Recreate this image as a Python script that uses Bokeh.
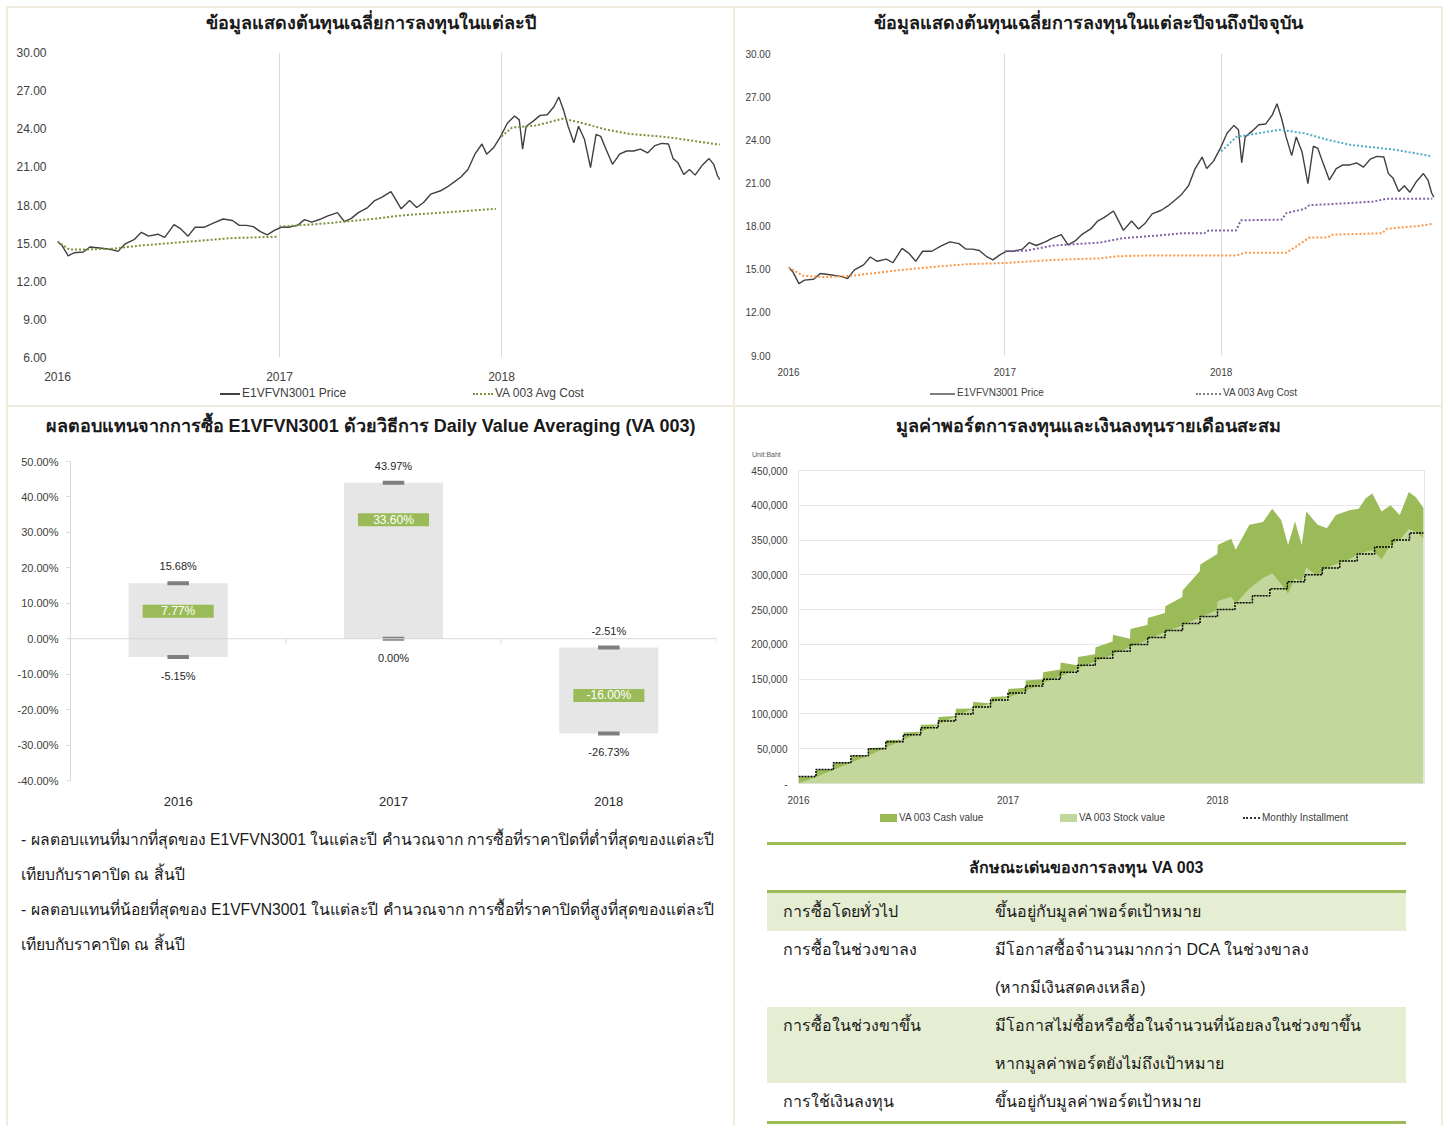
from bokeh.plotting import figure
from bokeh.models import (Range1d, FixedTicker, Span, Div, Spacer,
                          PrintfTickFormatter, NumeralTickFormatter, ColumnDataSource)
from bokeh.layouts import column, row
from bokeh.embed import file_html
from bokeh.resources import INLINE
from bokeh.core.properties import value

FONT = "Liberation Sans"
TXT = "#404040"
GRID = "#d9d9d9"
BEIGE = "#efebdd"
CSSFONT = "'Liberation Sans',Arial,sans-serif"
WHITE = {"background-color": "white"}

# ---------------- data ----------------
year_ticks = [2016, 2017, 2018]
year_labels = ["2016", "2017", "2018"]

price_t = [2016.000, 2016.021, 2016.048, 2016.074, 2016.116, 2016.147, 2016.200, 2016.242, 2016.273, 2016.305,
           2016.347, 2016.378, 2016.410, 2016.452, 2016.483, 2016.525, 2016.557, 2016.588, 2016.620, 2016.662,
           2016.704, 2016.746, 2016.788, 2016.819, 2016.851, 2016.882, 2016.914, 2016.945, 2016.977, 2017.008,
           2017.040, 2017.082, 2017.113, 2017.145, 2017.187, 2017.218, 2017.261, 2017.292, 2017.324, 2017.355,
           2017.397, 2017.429, 2017.460, 2017.502, 2017.523, 2017.548, 2017.586, 2017.618, 2017.649, 2017.681,
           2017.723, 2017.754, 2017.786, 2017.817, 2017.849, 2017.880, 2017.912, 2017.933, 2017.964, 2017.996,
           2018.027, 2018.059, 2018.080, 2018.095, 2018.111, 2018.143, 2018.174, 2018.206, 2018.237, 2018.258,
           2018.279, 2018.300, 2018.326, 2018.347, 2018.374, 2018.401, 2018.426, 2018.447, 2018.468, 2018.500,
           2018.532, 2018.563, 2018.595, 2018.626, 2018.658, 2018.689, 2018.721, 2018.752, 2018.773, 2018.794,
           2018.821, 2018.847, 2018.872, 2018.903, 2018.935, 2018.956, 2018.973, 2018.983]
price = [15.13, 14.80, 14.00, 14.24, 14.30, 14.70, 14.60, 14.50, 14.35, 14.95,
         15.30, 15.85, 15.55, 15.70, 15.45, 16.45, 16.10, 15.55, 16.25, 16.25,
         16.60, 16.90, 16.78, 16.40, 16.40, 16.30, 15.90, 15.65, 16.00, 16.25,
         16.25, 16.40, 16.85, 16.65, 16.90, 17.15, 17.40, 16.70, 16.95, 17.40,
         17.80, 18.35, 18.60, 19.05, 18.45, 17.70, 18.35, 17.80, 18.20, 18.85,
         19.10, 19.40, 19.80, 20.20, 20.80, 22.00, 22.80, 22.00, 22.50, 23.40,
         24.45, 25.00, 24.70, 22.40, 24.20, 24.60, 25.05, 25.10, 25.75, 26.50,
         25.50, 24.20, 22.90, 24.20, 23.15, 20.95, 23.55, 23.40, 22.50, 21.20,
         22.00, 22.25, 22.25, 22.40, 22.10, 22.65, 22.85, 22.80, 21.65, 21.35,
         20.40, 20.80, 20.35, 21.10, 21.65, 21.20, 20.30, 20.00]

# yearly average cost (chart 1)
avg_y2016_t = [2016.000, 2016.053, 2016.116, 2016.242, 2016.368, 2016.578, 2016.788, 2016.987]
avg_y2016 = [15.13, 14.50, 14.50, 14.55, 14.80, 15.10, 15.40, 15.50]
avg_y2017_t = [2017.000, 2017.208, 2017.418, 2017.565, 2017.733, 2017.975]
avg_y2017 = [16.30, 16.55, 16.90, 17.20, 17.40, 17.70]
avg_y2018_t = [2018.000, 2018.048, 2018.153, 2018.279, 2018.363, 2018.468, 2018.574, 2018.742, 2018.983]
avg_y2018 = [23.40, 24.10, 24.25, 24.80, 24.45, 23.95, 23.60, 23.35, 22.75]

# average cost up to now (chart 2)
avg_since2016_t = [2016.000, 2016.067, 2016.173, 2016.299, 2016.489, 2016.700, 2016.826, 2017.001, 2017.227,
                   2017.437, 2017.522, 2017.648, 2017.859, 2018.069, 2018.112, 2018.301, 2018.344, 2018.407,
                   2018.491, 2018.512, 2018.744, 2018.765, 2018.828, 2018.913, 2018.976]
avg_since2016 = [15.13, 14.55, 14.45, 14.55, 14.90, 15.20, 15.35, 15.43, 15.65,
                 15.75, 15.90, 15.95, 15.95, 15.95, 16.15, 16.15, 16.55, 17.20,
                 17.20, 17.40, 17.50, 17.80, 17.90, 18.00, 18.15]
avg_since2017_t = [2017.001, 2017.100, 2017.227, 2017.437, 2017.543, 2017.753, 2017.817, 2017.922, 2017.943,
                   2018.069, 2018.091, 2018.280, 2018.301, 2018.386, 2018.407, 2018.596, 2018.702, 2018.765, 2018.976]
avg_since2017 = [16.25, 16.30, 16.65, 16.85, 17.15, 17.40, 17.50, 17.50, 17.70,
                 17.70, 18.40, 18.45, 18.90, 19.20, 19.45, 19.60, 19.70, 19.90, 19.90]
avg_since2018_t = [2018.000, 2018.070, 2018.270, 2018.386, 2018.491, 2018.596, 2018.807, 2018.976]
avg_since2018 = [23.20, 24.20, 24.70, 24.45, 24.00, 23.65, 23.30, 22.85]

# returns (chart 3)
ret_years = ["2016", "2017", "2018"]
ret_max = [15.68, 43.97, -2.51]
ret_min = [-5.15, 0.00, -26.73]
ret_va = [7.77, 33.60, -16.00]

# portfolio (chart 4), thousand baht
port_t = [2016.000, 2016.082, 2016.084, 2016.165, 2016.168, 2016.249, 2016.251, 2016.332, 2016.334, 2016.415,
          2016.418, 2016.499, 2016.501, 2016.582, 2016.584, 2016.665, 2016.668, 2016.749, 2016.751, 2016.832,
          2016.834, 2016.915, 2016.918, 2016.999, 2017.001, 2017.082, 2017.084, 2017.165, 2017.168, 2017.249,
          2017.251, 2017.332, 2017.334, 2017.415, 2017.418, 2017.499, 2017.501, 2017.582, 2017.584, 2017.665,
          2017.668, 2017.749, 2017.751, 2017.832, 2017.834, 2017.915, 2017.918, 2017.999,
          2018.001, 2018.065, 2018.087, 2018.152, 2018.217, 2018.261, 2018.304, 2018.337, 2018.370, 2018.402,
          2018.424, 2018.478, 2018.522, 2018.565, 2018.630, 2018.674, 2018.707, 2018.739, 2018.783, 2018.826,
          2018.870, 2018.913, 2018.946, 2018.983]
port_total_k = [10.0, 9.5, 19.5, 20.0, 30.0, 30.3, 40.3, 40.0, 50.5, 52.0,
                62.5, 63.0, 73.5, 74.5, 84.5, 85.0, 95.5, 97.0, 107.5, 108.0,
                117.0, 115.5, 124.5, 125.5, 136.0, 137.5, 148.0, 150.0, 160.0, 164.0,
                174.0, 170.0, 182.0, 186.0, 196.0, 204.0, 214.0, 208.0, 222.0, 228.0,
                238.0, 245.0, 255.0, 268.0, 278.0, 305.0, 315.0, 330.0,
                343, 352, 336, 372, 376, 395, 379, 343, 377, 343,
                391, 372, 367, 386, 393, 395, 410, 417, 391, 400,
                386, 419, 412, 396]
stock_k = [0.0, 8.7, 9.0, 19.2, 19.5, 29.5, 29.8, 39.2, 39.5, 51.2,
           51.5, 62.2, 62.5, 73.7, 74.0, 84.2, 84.5, 96.2, 96.5, 107.2,
           107.5, 114.7, 115.0, 124.7, 123, 133, 133, 143, 144, 154,
           154, 164, 165, 175, 175, 185, 186, 196, 196, 206,
           207, 217, 217, 227, 228, 238, 239, 249,
           262, 268, 258, 280, 295, 302, 286, 272, 295, 290,
           310, 298, 310, 315, 322, 330, 333, 335, 322, 342,
           350, 365, 362, 352]
installment = [10000, 20000, 30000, 40000, 50000, 60000, 70000, 80000, 90000, 100000, 110000, 120000,
               130000, 140000, 150000, 160000, 170000, 180000, 190000, 200000, 210000, 220000, 230000, 240000,
               250000, 260000, 270000, 280000, 290000, 300000, 310000, 320000, 330000, 340000, 350000, 360000]
data_end = 2018.983

# ---------------- helpers ----------------
def base_fig(w, h, xr, yr, left, right, top, bottom):
    p = figure(width=w, height=h, x_range=xr, y_range=yr, output_backend="svg", title=None,
               toolbar_location=None, min_border_left=left, min_border_right=right,
               min_border_top=top, min_border_bottom=bottom, styles=dict(WHITE))
    p.outline_line_color = None
    p.background_fill_color = "white"
    p.border_fill_color = "white"
    return p

def style_axes(p, fs):
    for ax in (p.xaxis[0], p.yaxis[0]):
        ax.axis_line_color = None
        ax.major_tick_line_color = None
        ax.minor_tick_line_color = None
        ax.major_label_text_font = FONT
        ax.major_label_text_font_size = fs
        ax.major_label_text_color = TXT

def year_axis(p, fs):
    p.xaxis.ticker = FixedTicker(ticks=year_ticks)
    p.xaxis.major_label_overrides = dict(zip(year_ticks, year_labels))
    p.xgrid.ticker = FixedTicker(ticks=year_ticks)
    p.xgrid.grid_line_color = GRID
    p.ygrid.grid_line_color = None
    style_axes(p, fs)

def title_div(width, height, text, line_h, extra=""):
    html = (f'<div style="position:relative;width:{width}px;height:{height}px;">'
            f'<div style="width:{width}px;height:{line_h}px;line-height:{line_h}px;text-align:center;'
            f'font-family:{CSSFONT};font-size:18px;font-weight:bold;color:#1a1a1a;white-space:nowrap;">{text}</div>'
            f'{extra}</div>')
    return Div(text=html, width=width, height=height, margin=0,
               styles={"background-color": "white", "overflow": "hidden"})

def line_swatch(color, style, w=20, lw=2):
    return (f'<span style="display:inline-block;width:{w}px;height:0;'
            f'border-top:{lw}px {style} {color};"></span>')

def box_swatch(color, w=17, h=8):
    return f'<span style="display:inline-block;width:{w}px;height:{h}px;background:{color};"></span>'

def legend_div(width, height, items, fs):
    parts = [f'<div style="position:relative;width:{width}px;height:{height}px;font-family:{CSSFONT};'
             f'font-size:{fs};color:{TXT};">']
    for x, sw, lab in items:
        parts.append(f'<div style="position:absolute;left:{x}px;top:0;height:{height}px;display:flex;'
                     f'align-items:center;white-space:nowrap;">{sw}<span style="margin-left:2px;">{lab}</span></div>')
    parts.append("</div>")
    return Div(text="".join(parts), width=width, height=height, margin=0,
               styles={"background-color": "white", "overflow": "hidden"})

# ---------------- chart 1 ----------------
t1 = title_div(725, 30, "ข้อมูลแสดงต้นทุนเฉลี่ยการลงทุนในแต่ละปี", 30)
p1 = base_fig(725, 345, Range1d(2016, 2019), Range1d(6, 30), 49, 10, 14, 25)
year_axis(p1, "12px")
p1.yaxis.ticker = FixedTicker(ticks=[6, 9, 12, 15, 18, 21, 24, 27, 30])
p1.yaxis.formatter = PrintfTickFormatter(format="%.2f")
p1.xaxis.major_label_standoff = 8
AVG1 = "#77933c"
p1.line(price_t, price, line_color="#404040", line_width=1.4)
p1.line(avg_y2016_t, avg_y2016, line_color=AVG1, line_width=2, line_dash="2 2")
p1.line(avg_y2017_t, avg_y2017, line_color=AVG1, line_width=2, line_dash="2 2")
p1.line(avg_y2018_t, avg_y2018, line_color=AVG1, line_width=2, line_dash="2 2")
leg1 = legend_div(725, 22, [(212, line_swatch("#404040", "solid", 20, 2), "E1VFVN3001 Price"),
                            (465, line_swatch(AVG1, "dotted", 20, 2), "VA 003 Avg Cost")], "12px")

# ---------------- chart 2 ----------------
t2 = title_div(706, 30, "ข้อมูลแสดงต้นทุนเฉลี่ยการลงทุนในแต่ละปีจนถึงปัจจุบัน", 30)
p2 = base_fig(706, 344, Range1d(2016, 2019), Range1d(9, 30), 53, 4, 15, 27)
year_axis(p2, "10px")
p2.yaxis.ticker = FixedTicker(ticks=[9, 12, 15, 18, 21, 24, 27, 30])
p2.yaxis.formatter = PrintfTickFormatter(format="%.2f")
p2.yaxis.major_label_standoff = 12
p2.xaxis.major_label_standoff = 6
p2.line(price_t, price, line_color="#404040", line_width=1.4)
p2.line(avg_since2016_t, avg_since2016, line_color="#f79646", line_width=2, line_dash="2 2")
p2.line(avg_since2017_t, avg_since2017, line_color="#8064a2", line_width=2, line_dash="2 2")
p2.line(avg_since2018_t, avg_since2018, line_color="#4bacc6", line_width=2, line_dash="2 2")
leg2 = legend_div(706, 23, [(195, line_swatch("#7f7f7f", "solid", 25, 2), "E1VFVN3001 Price"),
                            (461, line_swatch("#7f7f7f", "dotted", 25, 2), "VA 003 Avg Cost")], "10px")

# ---------------- chart 3 ----------------
t3 = title_div(725, 38, "ผลตอบแทนจากการซื้อ E1VFVN3001 ด้วยวิธีการ Daily Value Averaging (VA 003)", 38)
p3 = base_fig(725, 375, Range1d(0, len(ret_years)), Range1d(-40, 50), 62, 17, 16, 40)
style_axes(p3, "11px")
centers = [i + 0.5 for i in range(len(ret_years))]
p3.xaxis.ticker = FixedTicker(ticks=centers)
p3.xaxis.major_label_overrides = dict(zip(centers, ret_years))
p3.xaxis.major_label_text_font_size = "13px"
p3.xaxis.major_label_text_color = "#262626"
p3.xaxis.major_label_standoff = 10
p3.yaxis.ticker = FixedTicker(ticks=list(range(-40, 51, 10)))
p3.yaxis.formatter = PrintfTickFormatter(format="%.2f%%")
p3.yaxis.axis_line_color = GRID
p3.yaxis.major_tick_line_color = GRID
p3.yaxis.major_tick_out = 4
p3.yaxis.major_tick_in = 0
p3.yaxis.major_label_standoff = 8
p3.xgrid.grid_line_color = None
p3.ygrid.grid_line_color = None
p3.add_layout(Span(location=0, dimension="width", line_color=GRID, line_width=1))
bounds = list(range(1, len(ret_years) + 1))
p3.segment(x0=bounds, y0=[0] * len(bounds), x1=bounds, y1=[-1.4] * len(bounds), line_color=GRID)
mids = [(a + b) / 2 for a, b in zip(ret_max, ret_min)]
spans = [a - b for a, b in zip(ret_max, ret_min)]
src3 = ColumnDataSource(dict(x=centers, mid=mids, span=spans, mx=ret_max, mn=ret_min, va=ret_va,
                             mx_t=["%.2f%%" % v for v in ret_max], mn_t=["%.2f%%" % v for v in ret_min],
                             va_t=["%.2f%%" % v for v in ret_va]))
p3.rect(x="x", y="mid", width=0.46, height="span", source=src3, fill_color="#e6e6e6", line_color=None)
p3.rect(x="x", y="mx", width=0.1, height=4, height_units="screen", source=src3, fill_color="#7f7f7f", line_color=None)
p3.rect(x="x", y="mn", width=0.1, height=4, height_units="screen", source=src3, fill_color="#7f7f7f", line_color=None)
p3.rect(x="x", y="va", width=0.33, height=13, height_units="screen", source=src3, fill_color="#9bbb59", line_color=None)
p3.text(x="x", y="va", text="va_t", source=src3, text_align="center", text_baseline="middle",
        text_color="white", text_font=value(FONT), text_font_size="12px")
p3.text(x="x", y="mx", text="mx_t", source=src3, text_align="center", text_baseline="middle", y_offset=-17,
        text_color="#262626", text_font=value(FONT), text_font_size="11px")
p3.text(x="x", y="mn", text="mn_t", source=src3, text_align="center", text_baseline="middle", y_offset=19,
        text_color="#262626", text_font=value(FONT), text_font_size="11px")

# ---------------- chart 4 ----------------
unit_html = (f'<span style="position:absolute;left:17px;top:44px;font-family:{CSSFONT};font-size:7px;'
             f'line-height:8px;color:#595959;">Unit:Baht</span>')
t4 = title_div(706, 52, "มูลค่าพอร์ตการลงทุนและเงินลงทุนรายเดือนสะสม", 38, unit_html)
p4 = base_fig(706, 347, Range1d(2016, 2018.988), Range1d(0, 450000), 63, 17, 11, 22)
style_axes(p4, "10px")
p4.outline_line_color = "#e6e6e6"
p4.xaxis.ticker = FixedTicker(ticks=year_ticks)
p4.xaxis.major_label_overrides = dict(zip(year_ticks, year_labels))
p4.xaxis.major_label_standoff = 6
p4.yaxis.ticker = FixedTicker(ticks=list(range(0, 450001, 50000)))
p4.yaxis.formatter = NumeralTickFormatter(format="0,0")
p4.yaxis.major_label_overrides = {0: "-"}
p4.xgrid.grid_line_color = None
p4.ygrid.grid_line_color = "#e8e8e8"
total = [v * 1000 for v in port_total_k]
stock = [v * 1000 for v in stock_k]
p4.varea(x=port_t, y1=[0] * len(port_t), y2=stock, fill_color="#c3d69b")
p4.varea(x=port_t, y1=stock, y2=total, fill_color="#9bbb59")
inst_t = [2016 + i / 12 for i in range(len(installment))] + [data_end]
inst_v = installment + [installment[-1]]
p4.step(inst_t, inst_v, mode="after", line_color="black", line_width=1.5, line_dash="2 1")
leg4 = legend_div(706, 24, [(145, box_swatch("#9bbb59"), "VA 003 Cash value"),
                            (325, box_swatch("#c3d69b"), "VA 003 Stock value"),
                            (508, line_swatch("#333333", "dotted", 17, 2), "Monthly Installment")], "10px")

# ---------------- texts ----------------
notes_html = f"""<div style="font-family:{CSSFONT};font-size:15.7px;line-height:35px;color:#1a1a1a;padding:2px 0 0 13px;white-space:nowrap;">
- ผลตอบแทนที่มากที่สุดของ E1VFVN3001 ในแต่ละปี คำนวณจาก การซื้อที่ราคาปิดที่ต่ำที่สุดของแต่ละปี<br>
เทียบกับราคาปิด ณ สิ้นปี<br>
- ผลตอบแทนที่น้อยที่สุดของ E1VFVN3001 ในแต่ละปี คำนวณจาก การซื้อที่ราคาปิดที่สูงที่สุดของแต่ละปี<br>
เทียบกับราคาปิด ณ สิ้นปี</div>"""
notes = Div(text=notes_html, width=725, height=306, margin=0,
            styles={"background-color": "white", "overflow": "hidden"})

table_rows = [("การซื้อโดยทั่วไป", ["ขึ้นอยู่กับมูลค่าพอร์ตเป้าหมาย"]),
              ("การซื้อในช่วงขาลง", ["มีโอกาสซื้อจำนวนมากกว่า DCA ในช่วงขาลง", "(หากมีเงินสดคงเหลือ)"]),
              ("การซื้อในช่วงขาขึ้น", ["มีโอกาสไม่ซื้อหรือซื้อในจำนวนที่น้อยลงในช่วงขาขึ้น", "หากมูลค่าพอร์ตยังไม่ถึงเป้าหมาย"]),
              ("การใช้เงินลงทุน", ["ขึ้นอยู่กับมูลค่าพอร์ตเป้าหมาย"])]
trs = []
for i, (a, b) in enumerate(table_rows):
    bg = "#e5edd3" if i % 2 == 0 else "white"
    last = "border-bottom:3px solid #9bbb59;" if i == len(table_rows) - 1 else ""
    trs.append(f'<tr style="background:{bg};{last}"><td style="padding:0 0 0 16px;vertical-align:top;">{a}</td>'
               f'<td style="padding:0;vertical-align:top;">{"<br>".join(b)}</td></tr>')
table_html = ('<table style="border-collapse:collapse;table-layout:fixed;width:639px;margin:12px 0 0 32px;'
              f"font-family:{CSSFONT};font-size:16px;line-height:38px;color:#1a1a1a;\">"
              '<colgroup><col style="width:228px"><col style="width:411px"></colgroup>'
              '<tr><th colspan="2" style="border-top:3px solid #9bbb59;border-bottom:3px solid #9bbb59;'
              'height:43px;line-height:43px;font-weight:bold;text-align:center;">ลักษณะเด่นของการลงทุน VA 003</th></tr>'
              + "".join(trs) + "</table>")
table = Div(text=table_html, width=706, height=296, margin=0,
            styles={"background-color": "white", "overflow": "hidden"})

BG = {"background-color": BEIGE}
left = column(Spacer(width=725, height=0), column(t1, p1, leg1, spacing=0, styles=dict(WHITE)),
              column(t3, p3, notes, spacing=0, styles=dict(WHITE)), spacing=2, styles=BG)
right = column(Spacer(width=706, height=0), column(t2, p2, leg2, spacing=0, styles=dict(WHITE)),
               column(t4, p4, leg4, table, spacing=0, styles=dict(WHITE)), spacing=2, styles=BG)
inner = row(Spacer(width=0, height=10), left, right, Spacer(width=0, height=10), spacing=2, styles=BG)
root = column(Spacer(width=10, height=6), row(Spacer(width=6, height=10), inner, spacing=0), spacing=0)

open("out.html", "w").write(file_html(root, INLINE))
